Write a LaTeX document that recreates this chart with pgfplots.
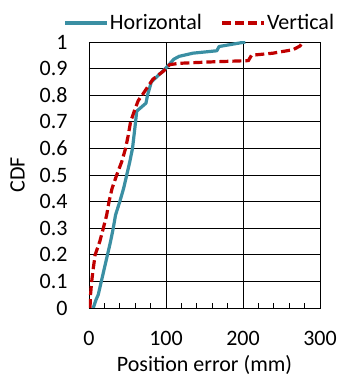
\documentclass[border=0pt]{standalone}
\usepackage{pgfplots}
\pgfplotsset{compat=1.18}
\usepackage{fontspec}
\setmainfont{Carlito}
\definecolor{hcol}{HTML}{3A8FA3}
\definecolor{vcol}{HTML}{C00000}
\begin{document}
\begin{tikzpicture}[x=1pt,y=1pt]
\begin{axis}[
  at={(0,0)}, anchor=south west,
  scale only axis, width=231pt, height=266pt,
  xmin=0, xmax=300, ymin=0, ymax=1,
  xtick={0,100,200,300}, ytick={0,0.1,...,1},
  yticklabels={0,0.1,0.2,0.3,0.4,0.5,0.6,0.7,0.8,0.9,1},
  minor x tick num=4,
  grid=major, major grid style={black, line width=0.8pt},
  axis line style={black, line width=0.8pt},
  major tick length=0pt, minor tick length=5pt,
  minor tick style={black, line width=0.6pt},
  xtick pos=bottom, ytick pos=left,
  tick align=inside,
  /pgf/number format/assume math mode=true,
  ticklabel style={font=\fontsize{22}{22}\selectfont},
  xticklabel style={yshift=-20pt},
  yticklabel style={xshift=-18pt},
  xlabel={Position error (mm)},
  ylabel={CDF},
  label style={font=\fontsize{22}{22}\selectfont},
  xlabel style={yshift=-3pt},
  ylabel style={yshift=8pt},
  legend columns=2,
  legend style={draw=none, fill=none, at={(0.478,1.024)}, anchor=south,
    font=\fontsize{22}{22}\selectfont, inner xsep=0pt,
    /tikz/every odd column/.append style={column sep=0pt},
    /tikz/every even column/.append style={column sep=18pt},
    nodes={inner xsep=1pt}},
  legend image code/.code={\draw[#1] (0pt,0pt) -- (42pt,0pt);},
]
\addplot[hcol, line width=3.2pt, line join=round] coordinates {
(5.5,0) (9,0.03) (12,0.05) (16,0.1) (20,0.15) (24,0.2) (28,0.25) (31.5,0.3) (34.5,0.35)
(40,0.4) (45,0.45) (49,0.5) (53,0.55) (56.5,0.6) (58.5,0.65) (60.5,0.7) (62,0.74)
(68,0.755) (74,0.77) (76,0.8) (81,0.85) (92,0.88) (99,0.9) (104,0.915) (110,0.935)
(117,0.946) (135,0.958) (166,0.967) (169,0.983) (187,0.992) (203,1)
};
\addlegendentry{Horizontal}
\addplot[vcol, line width=3.2pt, dash pattern=on 9pt off 4pt] coordinates {
(1.3,0) (2,0.05) (3.5,0.1) (5.6,0.15) (8,0.2) (14,0.25) (18.6,0.3) (23,0.35) (26,0.4)
(30,0.45) (36,0.5) (42.5,0.55) (47.5,0.6) (51,0.65) (54,0.7) (60,0.75) (64,0.78) (69,0.8)
(76,0.83) (83,0.86) (96.5,0.89) (105,0.915) (118,0.92) (157,0.925) (207,0.93) (211,0.95)
(239,0.958) (265,0.971) (274,0.985) (278,1)
};
\addlegendentry{Vertical}
\end{axis}
\pgfresetboundingbox
\path (-89,-69) rectangle (250,308);
\end{tikzpicture}
\end{document}
